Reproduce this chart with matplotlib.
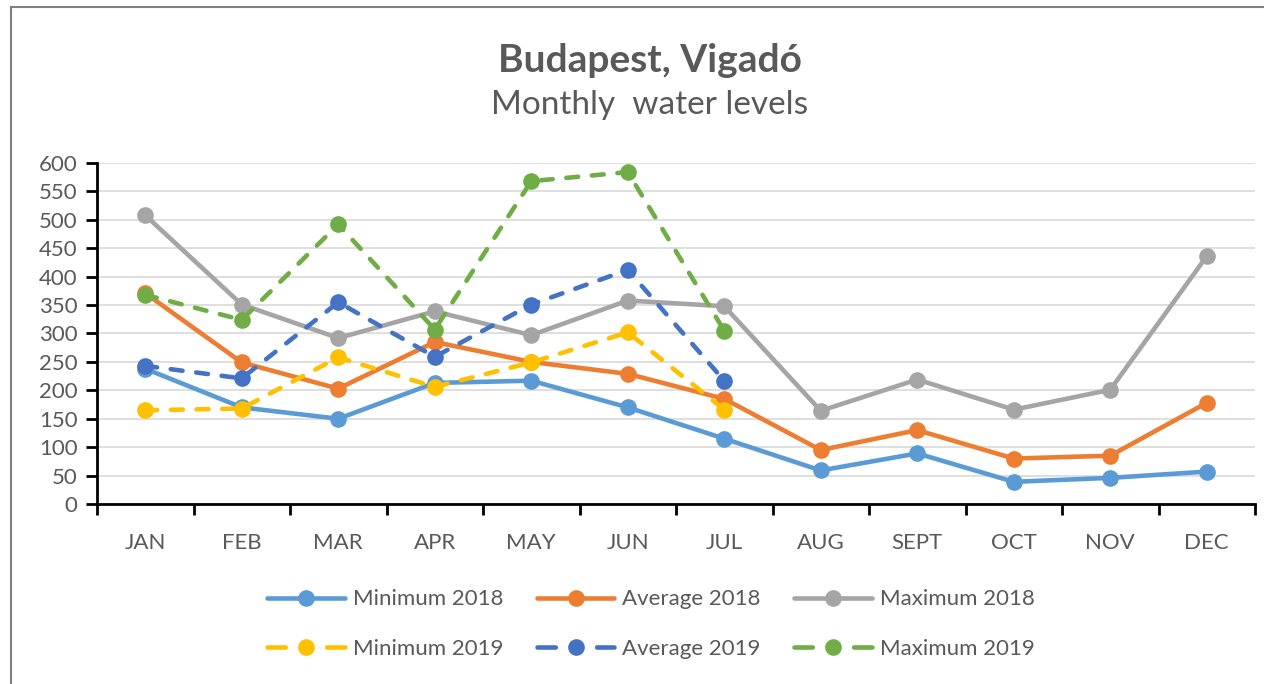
import matplotlib
matplotlib.use("Agg")
import matplotlib.pyplot as plt
from matplotlib.lines import Line2D

plt.rcParams['font.family'] = ['Lato', 'DejaVu Sans']

months = ["JAN", "FEB", "MAR", "APR", "MAY", "JUN", "JUL", "AUG", "SEPT", "OCT", "NOV", "DEC"]
min_2018 = [238, 170, 150, 213, 217, 170, 115, 59, 89, 39, 46, 57]
avg_2018 = [371, 249, 203, 285, 250, 229, 185, 95, 130, 80, 85, 178]
max_2018 = [508, 351, 292, 339, 297, 358, 348, 164, 219, 166, 201, 436]
min_2019 = [165, 168, 258, 206, 249, 302, 166]
avg_2019 = [243, 221, 355, 259, 351, 412, 217]
max_2019 = [368, 324, 492, 307, 568, 584, 305]
yticks = list(range(0, 601, 50))

series = [
    ("Minimum 2018", min_2018, "#5B9BD5", "-"),
    ("Average 2018", avg_2018, "#ED7D31", "-"),
    ("Maximum 2018", max_2018, "#A5A5A5", "-"),
    ("Minimum 2019", min_2019, "#FFC000", "--"),
    ("Average 2019", avg_2019, "#4472C4", "--"),
    ("Maximum 2019", max_2019, "#70AD47", "--"),
]

text_c = "#595959"
fig = plt.figure(figsize=(12.64, 6.84), dpi=100)
ax = fig.add_axes([97/1264, 1-504/684, (1255-97)/1264, (504-163)/684])

lw = 3.3
handles = []
for name, vals, col, ls in series:
    x = list(range(len(vals)))
    kw = dict(color=col, lw=lw, marker='o', markersize=12, markeredgewidth=0,
              solid_capstyle='round', label=name)
    if ls == "--":
        ax.plot(x, vals, linestyle=(0, (2.6, 3.0)), dash_capstyle='round', **kw)
        h = Line2D([], [], color=col, lw=lw, marker='o', markersize=12, markeredgewidth=0,
                   linestyle=(0, (4.0, 9.0)), dash_capstyle='round')
    else:
        ax.plot(x, vals, **kw)
        h = Line2D([], [], color=col, lw=lw, marker='o', markersize=12, markeredgewidth=0,
                   solid_capstyle='round')
    handles.append(h)

ax.set_xlim(-0.5, len(months) - 0.5)
ax.set_ylim(0, 600)
ax.set_yticks(yticks)
ax.set_yticklabels([str(v) for v in yticks], fontsize=16, color=text_c)
ax.set_xticks([i - 0.5 for i in range(len(months) + 1)])
ax.set_xticklabels([])
ax.set_xticks(range(len(months)), minor=True)
ax.set_xticklabels(months, minor=True, fontsize=16, color=text_c)
ax.tick_params(axis='x', which='major', length=8, width=2, direction='out', color='black')
ax.tick_params(axis='x', which='minor', length=0, pad=21)
ax.tick_params(axis='y', length=8, width=2, direction='out', color='black', pad=6)
ax.grid(axis='y', color='#D9D9D9', lw=1.2)
ax.set_axisbelow(True)
for s in ['top', 'right']:
    ax.spines[s].set_visible(False)
for s in ['left', 'bottom']:
    ax.spines[s].set_linewidth(2)
    ax.spines[s].set_color('black')
ax.spines['bottom'].set_zorder(3)

fig.text(650/1264, 1-60/684, "Budapest, Vigadó", ha='center', va='center',
         fontsize=28, fontweight='bold', color=text_c)
fig.text(650/1264, 1-105/684, "Monthly  water levels", ha='center', va='center',
         fontsize=24, color=text_c)

# legend filled row by row: reorder for matplotlib's column-major fill
order = [0, 3, 1, 4, 2, 5]
leg = fig.legend([handles[i] for i in order], [series[i][0] for i in order],
                 loc='center', bbox_to_anchor=(651/1264, 1-624/684),
                 ncol=3, frameon=False, fontsize=16, labelcolor=text_c,
                 handlelength=3.5, handletextpad=0.36, columnspacing=1.5,
                 labelspacing=1.32)

# outer frame (left and top)
fig.add_artist(Line2D([11/1264, 11/1264], [0, 1-7/684], color='#7F7F7F', lw=1.5, transform=fig.transFigure))
fig.add_artist(Line2D([11/1264, 1], [1-7/684, 1-7/684], color='#7F7F7F', lw=1.5, transform=fig.transFigure))

fig.savefig("out.png", dpi=100)
